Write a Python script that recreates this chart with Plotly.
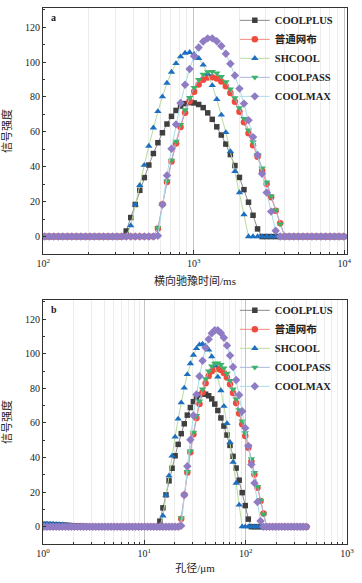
import numpy as np
import plotly.graph_objects as go
from plotly.subplots import make_subplots

# ---------------- data ----------------
names = ["COOLPLUS", "普通网布", "SHCOOL", "COOLPASS", "COOLMAX"]

# panel a: T2 sampling grid (log-spaced, 67 points), signal values
t2_log_start, t2_log_step, n_a = 2.009, 0.0301, 67

coolplus = [0]*18 + [3.2, 10.9, 18.4, 26.5, 33.8, 41.0, 47.6, 53.8, 59.5, 64.5,
                     68.9, 72.3, 74.8, 76.2, 76.8, 76.6, 75.7, 73.9, 70.9, 67.2,
                     62.9, 58.2, 53.0, 47.0, 40.7, 33.9, 26.9, 19.7, 12.2, 4.4] + [0]*19
putong = [0]*25 + [4.6, 18.5, 31.3, 43.0, 53.4, 62.8, 71.0, 77.6, 83.0, 87.1,
                   89.9, 91.2, 91.3, 90.6, 88.9, 86.2, 82.3, 77.3, 71.5, 65.5,
                   59.2, 52.4, 45.7, 37.7, 30.2, 22.5, 14.8, 7.6] + [0]*14
shcool = [0]*19 + [6.3, 18.3, 29.4, 40.9, 51.9, 62.3, 71.7, 80.2, 88.0, 94.3,
                   99.2, 103.1, 105.2, 105.6, 104.5, 102.2, 98.4, 93.2, 86.6, 78.7,
                   69.7, 59.7, 48.8, 37.3, 25.2, 12.6] + [0]*22
coolpass = [0]*25 + [5.0, 18.6, 31.8, 43.7, 54.5, 64.2, 72.6, 79.6, 85.4, 89.9,
                     92.9, 94.4, 94.6, 93.7, 91.7, 88.6, 84.5, 79.5, 73.8, 67.6,
                     61.0, 54.2, 46.9, 39.2, 31.2, 23.2, 15.2, 7.2] + [0]*14
coolmax = [0]*25 + [0.5, 18.3, 35.0, 50.3, 64.3, 76.5, 87.0, 96.0, 103.4, 108.4,
                    111.8, 113.6, 113.6, 112.0, 109.2, 104.8, 99.0, 92.3, 84.8, 76.2,
                    66.7, 57.0, 46.7, 36.0, 25.2, 14.3, 3.3] + [0]*15

# panel b: pore-size grid (log-spaced, 87 points); extra 20 leading points, then same signals
r_log_start, r_log_step, n_b = 0.0095, 0.0301, 87
lead_coolplus = [1.3, 1.3, 1.2, 1.2, 1.1, 1.0, 0.9, 0.8, 0.7, 0.6, 0.5, 0.4, 0.3, 0.2, 0.1, 0, 0, 0, 0, 0]
lead_shcool = [1.6, 1.6, 1.5, 1.5, 1.4, 1.3, 1.2, 1.0, 0.8, 0.6, 0.4, 0.2, 0.1, 0, 0, 0, 0, 0, 0, 0]
lead_zero = [0]*20

series_a = [coolplus, putong, shcool, coolpass, coolmax]
series_b = [lead_coolplus + coolplus, lead_zero + putong, lead_shcool + shcool,
            lead_zero + coolpass, lead_zero + coolmax]

xa = 10 ** (t2_log_start + t2_log_step * np.arange(n_a))
xb = 10 ** (r_log_start + r_log_step * np.arange(n_b))

# ---------------- styles ----------------
marker_colors = ["#3f3f3f", "#f04b3f", "#1f6fc0", "#3bb36a", "#8f7cc4"]
line_colors = ["#8a8a8a", "#f3897d", "#b7dc9e", "#aab6dc", "#a8dde8"]
symbols = ["square", "circle", "triangle-up", "triangle-down", "diamond"]
msizes = [5.5, 6.5, 6.5, 6.5, 6.5]

SERIF = "Liberation Serif, Noto Sans CJK SC, serif"
TXT = "#222222"

fig = make_subplots(rows=2, cols=1, vertical_spacing=0.0)

for i in range(5):
    for row, xs, ys, lg in [(1, xa, series_a[i], "legend"), (2, xb, series_b[i], "legend2")]:
        fig.add_trace(go.Scatter(
            x=xs, y=ys, name=names[i], mode="lines+markers",
            line=dict(color=line_colors[i], width=1),
            marker=dict(symbol=symbols[i], size=msizes[i], color=marker_colors[i],
                        line=dict(width=0)),
            legend=lg, showlegend=True), row=row, col=1)


def minor_vals(d0, d1):
    return [m * 10 ** d for d in range(d0, d1) for m in range(2, 10)]


axis_common = dict(showline=True, linecolor="#333333", linewidth=1, mirror=True,
                   tickfont=dict(family=SERIF, size=10, color=TXT),
                   zeroline=False, automargin=False)

fig.update_xaxes(type="log", showgrid=True, gridcolor="#c4c4c4", gridwidth=1,
                 ticks="inside", ticklen=4, tickcolor="#333333",
                 **axis_common)
fig.update_yaxes(range=[-10, 131], tickvals=[0, 20, 40, 60, 80, 100, 120],
                 showgrid=False, ticks="inside", ticklen=3, tickcolor="#333333",
                 minor=dict(ticks="inside", ticklen=2, dtick=10, tickcolor="#333333"),
                 title=dict(text="信号强度", font=dict(family=SERIF, size=11, color=TXT),
                            standoff=14),
                 **axis_common)

fig.update_xaxes(row=1, col=1, range=[1.998, 4.018], tickvals=[100, 1000, 10000],
                 ticktext=["10<sup>2</sup>", "10<sup>3</sup>", "10<sup>4</sup>"],
                 minor=dict(tickvals=minor_vals(2, 4), showgrid=True, gridcolor="#ececec",
                            ticks="inside", ticklen=2.5, tickcolor="#333333"),
                 title=dict(text="横向驰豫时间/ms", font=dict(family=SERIF, size=11, color=TXT),
                            standoff=9))
fig.update_xaxes(row=2, col=1, range=[0, 3], tickvals=[1, 10, 100, 1000],
                 ticktext=["10<sup>0</sup>", "10<sup>1</sup>", "10<sup>2</sup>", "10<sup>3</sup>"],
                 minor=dict(tickvals=minor_vals(0, 3), showgrid=True, gridcolor="#ececec",
                            ticks="inside", ticklen=2.5, tickcolor="#333333"),
                 title=dict(text="孔径/μm", font=dict(family=SERIF, size=11, color=TXT),
                            standoff=6))

LEGFONT = dict(family=SERIF, size=10.5, color=TXT, weight="bold")
fig.update_layout(
    width=362, height=583,
    margin=dict(l=43, r=15, t=8, b=39, autoexpand=False),
    paper_bgcolor="white", plot_bgcolor="white",
    xaxis=dict(domain=[0, 1]), yaxis=dict(domain=[0.541, 1.0]),
    xaxis2=dict(domain=[0, 1]), yaxis2=dict(domain=[0.0, 0.455]),
    legend=dict(x=0.631, y=1.004, xanchor="left", yanchor="top", bgcolor="rgba(0,0,0,0)",
                font=LEGFONT, tracegroupgap=0, itemwidth=30),
    legend2=dict(x=0.631, y=0.463, xanchor="left", yanchor="top", bgcolor="rgba(0,0,0,0)",
                 font=LEGFONT, tracegroupgap=0, itemwidth=30),
    annotations=[
        dict(text="a", xref="x domain", yref="y domain", x=0.02, y=0.96, showarrow=False,
             xanchor="left", yanchor="middle", font=dict(family=SERIF, size=10, color=TXT, weight="bold")),
        dict(text="b", xref="x2 domain", yref="y2 domain", x=0.02, y=0.96, showarrow=False,
             xanchor="left", yanchor="middle", font=dict(family=SERIF, size=10, color=TXT, weight="bold")),
    ],
)

fig.write_html("out.html", config={"displayModeBar": False},
               post_script="document.body.style.margin='0';")
